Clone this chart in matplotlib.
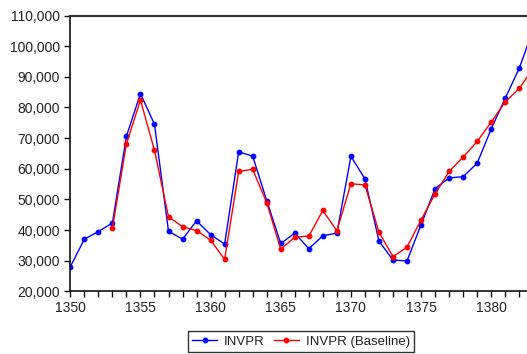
import numpy as np
import matplotlib.pyplot as plt

plt.rcParams['font.family'] = ['Liberation Sans', 'DejaVu Sans']

# INVPR actual, 1350-1383
years = np.arange(1350, 1384)
invpr = [28000, 37000, 39500, 42300, 70600, 84500, 74500, 39600, 37000, 43000,
         38500, 35400, 65500, 64100, 49600, 35600, 39000, 33900, 38100, 39000,
         64000, 56700, 36400, 30200, 29900, 41700, 53500, 57000, 57400, 61800,
         73000, 83000, 92800, 105500]

# baseline simulation, 1353-1383
years_base = np.arange(1353, 1384)
invpr_base = [40600, 68100, 82400, 66000, 44300, 41100, 39800, 36700, 30400, 59100,
              59800, 48900, 33700, 37700, 38000, 46400, 39700, 55100, 54700, 39300,
              31300, 34400, 43300, 51800, 59100, 63800, 68900, 75200, 81800, 86200,
              92800]

fig = plt.figure(figsize=(5.27, 3.54), dpi=100)
ax = fig.add_axes([70.3 / 527, 1 - 291.3 / 354, (540 - 70.3) / 527, (291.3 - 15.5) / 354])

ax.plot(years, invpr, color='#0000ff', lw=1, marker='o', ms=3.2, label='INVPR')
ax.plot(years_base, invpr_base, color='#ff0000', lw=1, marker='o', ms=3.2,
        label='INVPR (Baseline)')

ax.set_xlim(1350, 1350 + (540 - 70.3) / 14.03)
ax.set_ylim(20000, 110000)
ax.set_xticks(np.arange(1350, 1385, 5))
ax.set_xticks(np.arange(1350, 1384, 1), minor=True)
ax.set_yticks(np.arange(20000, 110001, 10000))
ax.set_yticklabels(['{:,}'.format(v) for v in range(20000, 110001, 10000)])

for s in ['left', 'bottom']:
    ax.spines[s].set_linewidth(1.2)
    ax.spines[s].set_color('#111111')
ax.spines['top'].set_linewidth(1.6)
ax.spines['top'].set_color('#333333')
ax.spines['right'].set_visible(False)

ax.tick_params(which='both', direction='out', length=4, width=1, color='#111111',
               labelsize=10, labelcolor='#222222')
ax.tick_params(axis='x', pad=3)

leg = fig.legend(loc='center', bbox_to_anchor=(301 / 527, 1 - 341.5 / 354), ncol=2,
                 fontsize=9.5, frameon=True, fancybox=False, edgecolor='black',
                 handlelength=1.9, columnspacing=0.7, borderpad=0.3, handletextpad=0.5,
                 borderaxespad=0)
leg.get_frame().set_linewidth(1.0)
for t in leg.get_texts():
    t.set_color('#222222')

fig.savefig('out.png', dpi=100)
